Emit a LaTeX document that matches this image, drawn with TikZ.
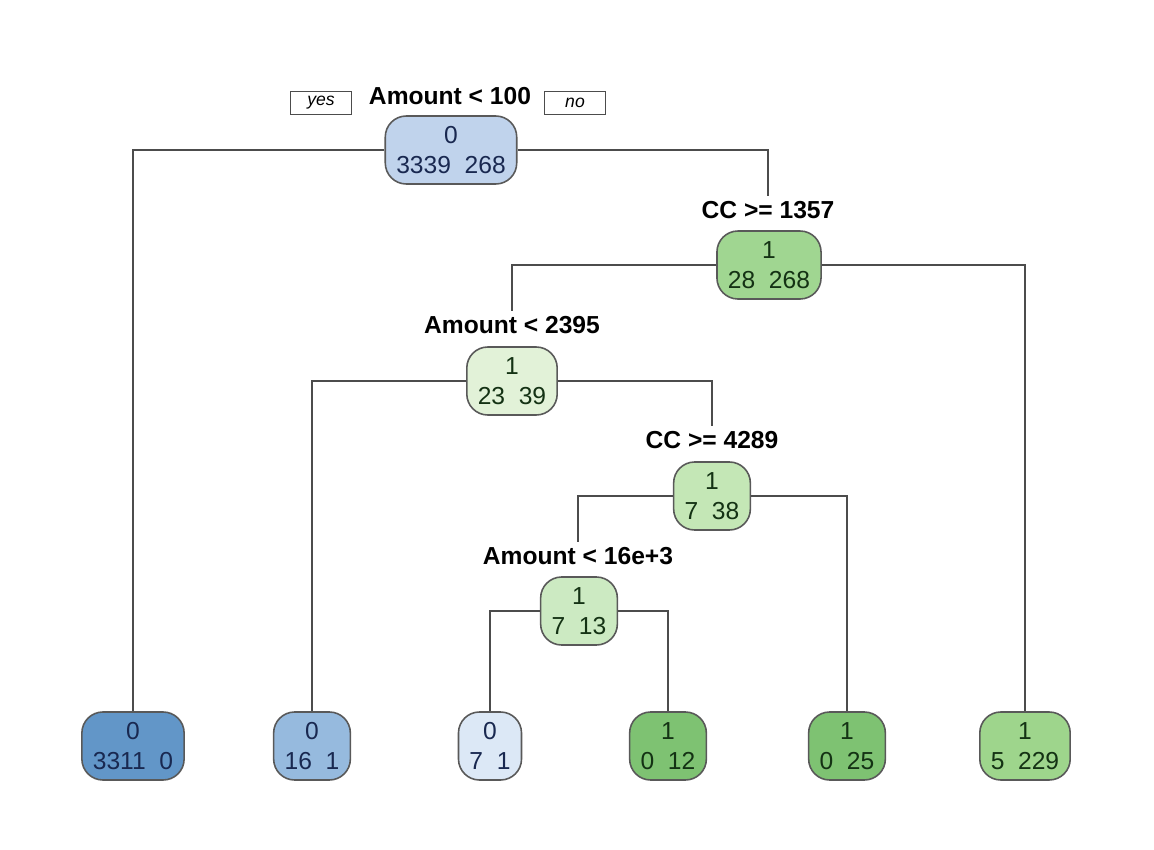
\documentclass[tikz,border=0pt]{standalone}
\usepackage{fontspec}
\setmainfont{Liberation Sans}
\usetikzlibrary{positioning}

\definecolor{bluetxt}{RGB}{25,40,80}
\definecolor{greentxt}{RGB}{20,50,20}
\definecolor{rootfill}{RGB}{192,211,236}
\definecolor{leafa}{RGB}{98,150,200}
\definecolor{leafb}{RGB}{150,186,222}
\definecolor{leafc}{RGB}{220,232,246}
\definecolor{greena}{RGB}{160,214,145}
\definecolor{greenb}{RGB}{226,242,216}
\definecolor{greenc}{RGB}{196,231,182}
\definecolor{greend}{RGB}{204,234,194}
\definecolor{greene}{RGB}{126,194,114}
\definecolor{greenf}{RGB}{158,213,140}

\begin{document}
\begin{tikzpicture}

\tikzset{box/.style = {draw=black!65, line width=0.9pt, rounded corners=0.42cm, align=center,
  font=\fontsize{14}{17}\selectfont, inner xsep=0.22cm, inner ysep=0.2cm, minimum height=1.36cm}}
\tikzset{bluebox/.style = {box, text=bluetxt}}
\tikzset{greenbox/.style = {box, text=greentxt}}
\tikzset{rule/.style = {font=\bfseries\fontsize{14}{17}\selectfont, inner sep=0.1cm}}
\tikzset{tag/.style = {draw=black!70, line width=0.5pt, font=\itshape\fontsize{10}{12}\selectfont,
  minimum width=1.22cm, minimum height=0.46cm, inner sep=0pt}}
\tikzset{edge/.style = {draw=black!70, line width=0.7pt}}

\useasboundingbox (0,0) rectangle (23.08,-17);
%splits
\node[rule] (r0lab) at (9.0,-1.92) {Amount < 100};
\node[tag] (yes) at (6.42,-2.06) {yes};
\node[tag] (no) at (11.5,-2.06) {no};
\node[bluebox, fill=rootfill] (r0) at (9.02,-3.0) {0\\3339\ \ 268};
\node[rule] (r1lab) at (15.36,-4.2) {CC >= 1357};
\node[greenbox, fill=greena] (r1) at (15.38,-5.3) {1\\28\ \ 268};
\node[rule] (r2lab) at (10.24,-6.5) {Amount < 2395};
\node[greenbox, fill=greenb] (r2) at (10.24,-7.62) {1\\23\ \ 39};
\node[rule] (r3lab) at (14.24,-8.8) {CC >= 4289};
\node[greenbox, fill=greenc] (r3) at (14.24,-9.92) {1\\7\ \ 38};
\node[rule] (r4lab) at (11.56,-11.12) {Amount < 16e+3};
\node[greenbox, fill=greend] (r4) at (11.58,-12.22) {1\\7\ \ 13};
%leaves
\node[bluebox, fill=leafa] (l1) at (2.66,-14.92) {0\\3311\ \ 0};
\node[bluebox, fill=leafb] (l2) at (6.24,-14.92) {0\\16\ \ 1};
\node[bluebox, fill=leafc] (l3) at (9.8,-14.92) {0\\7\ \ 1};
\node[greenbox, fill=greene] (l4) at (13.36,-14.92) {1\\0\ \ 12};
\node[greenbox, fill=greene] (l5) at (16.94,-14.92) {1\\0\ \ 25};
\node[greenbox, fill=greenf] (l6) at (20.5,-14.92) {1\\5\ \ 229};
%edges
\draw[edge] (r0) -| (l1);
\draw[edge] (r0) -| (r1lab);
\draw[edge] (r1) -| (r2lab);
\draw[edge] (r1) -| (l6);
\draw[edge] (r2) -| (l2);
\draw[edge] (r2) -| (r3lab);
\draw[edge] (r3) -| (r4lab);
\draw[edge] (r3) -| (l5);
\draw[edge] (r4) -| (l3);
\draw[edge] (r4) -| (l4);

\end{tikzpicture}
\end{document}
